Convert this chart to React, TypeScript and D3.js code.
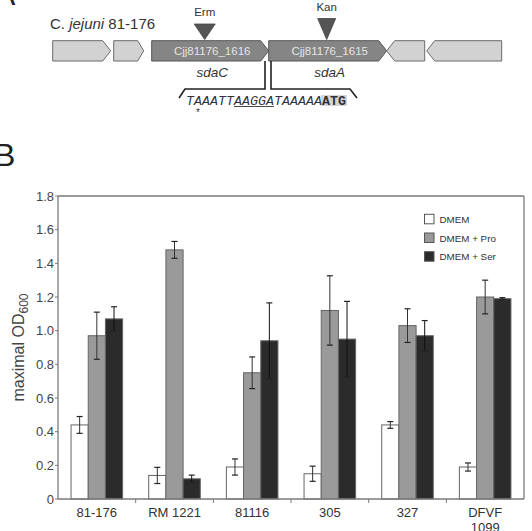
import React from "react";
import * as d3 from "d3";

// Growth data: maximal OD600 per strain and medium, with error bars
const strains = ["81-176", "RM 1221", "81116", "305", "327", "DFVF 1099"];
const media = ["DMEM", "DMEM + Pro", "DMEM + Ser"];
const dmem = [0.44, 0.14, 0.19, 0.15, 0.44, 0.19];
const dmemErr = [0.05, 0.048, 0.048, 0.045, 0.02, 0.024];
const pro = [0.97, 1.48, 0.75, 1.12, 1.03, 1.2];
const proErr = [0.14, 0.05, 0.094, 0.206, 0.1, 0.1];
const ser = [1.07, 0.12, 0.94, 0.95, 0.97, 1.19];
const serErr = [0.072, 0.022, 0.225, 0.224, 0.09, 0.006];
const yTicks = [0, 0.2, 0.4, 0.6, 0.8, 1.0, 1.2, 1.4, 1.6, 1.8];
const yTickLabels = ["0", "0.2", "0.4", "0.6", "0.8", "1.0", "1.2", "1.4", "1.6", "1.8"];

// Gene map of the sdaC/sdaA locus (map units along the chromosome)
const geneStart = [0, 61, 99, 216, 334, 374];
const geneEnd = [58, 91, 216, 334, 372, 449];
const geneStrand = [1, 1, 1, 1, -1, -1];
const geneLocus = ["", "", "Cjj81176_1616", "Cjj81176_1615", "", ""];
const geneName = ["", "", "sdaC", "sdaA", "", ""];
const insertName = ["Erm", "Kan"];
const insertSite = [152, 274];
const sequence = ["TAAATT", "AAGGA", "TAAAAA", "ATG"];

const seriesValues = [dmem, pro, ser];
const seriesErr = [dmemErr, proErr, serErr];
const seriesFill = ["#ffffff", "#9a9a9a", "#2b2b2b"];

const W = 532;
const H = 531;
const sans = "'Liberation Sans', Arial, Helvetica, sans-serif";
const mono = "'Liberation Mono', 'Courier New', monospace";

function genePath(x0: number, x1: number, strand: number, yTop: number, yBot: number, head: number) {
  const ym = (yTop + yBot) / 2;
  if (strand > 0) {
    return `M${x0},${yTop}L${x1 - head},${yTop}L${x1},${ym}L${x1 - head},${yBot}L${x0},${yBot}Z`;
  }
  return `M${x0},${ym}L${x0 + head},${yTop}L${x1},${yTop}L${x1},${yBot}L${x0 + head},${yBot}Z`;
}

function GeneMap() {
  const gx = d3.scaleLinear().domain([0, 450]).range([52.7, 502.7]);
  const yTop = 40.7;
  const yBot = 61;
  const seqX = 186;
  const charW = 8;
  let offset = 0;
  const seqParts = sequence.map((s) => {
    const p = { s, start: offset };
    offset += s.length;
    return p;
  });
  const seqLen = offset;
  return (
    <g>
      <text x={50} y={29} fontFamily={sans} fontSize={15} fill="#333">
        C. <tspan fontStyle="italic">jejuni</tspan> 81-176
      </text>
      {geneStart.map((s, i) => {
        const dark = geneLocus[i] !== "";
        return (
          <path
            key={i}
            d={genePath(gx(s), gx(geneEnd[i]), geneStrand[i], yTop, yBot, i === 1 ? 6 : 8)}
            fill={dark ? "#858585" : "#d2d2d2"}
            stroke={dark ? "#555" : "#6a6a6a"}
            strokeWidth={1}
          />
        );
      })}
      {geneLocus.map((l, i) =>
        l ? (
          <text
            key={"l" + i}
            x={gx((geneStart[i] + geneEnd[i]) / 2) + 2}
            y={55}
            textAnchor="middle"
            fontFamily={sans}
            fontSize={11.5}
            fill="#e4e4e4"
          >
            {l}
          </text>
        ) : null
      )}
      {geneName.map((n, i) =>
        n ? (
          <text
            key={"n" + i}
            x={gx((geneStart[i] + geneEnd[i]) / 2) + 2}
            y={77}
            textAnchor="middle"
            fontFamily={sans}
            fontSize={13.5}
            fontStyle="italic"
            fill="#333"
          >
            {n}
          </text>
        ) : null
      )}
      {insertSite.map((s, i) => {
        const cx = gx(s);
        const top = i === 0 ? 24 : 18.5;
        const hw = i === 0 ? 10.5 : 9;
        return (
          <g key={"ins" + i}>
            <path d={`M${cx - hw},${top}L${cx + hw},${top}L${cx},${39.5}Z`} fill="#555" stroke="#444" strokeWidth={0.8} />
            <text x={cx} y={top - 8} textAnchor="middle" fontFamily={sans} fontSize={11.5} fill="#333">
              {insertName[i]}
            </text>
          </g>
        );
      })}
      {/* intergenic region bracket */}
      <path d="M265,61L265,89L185,89L179,98" fill="none" stroke="#222" strokeWidth={1.6} />
      <path d="M271,61L271,89L350,89L357,98" fill="none" stroke="#222" strokeWidth={1.6} />
      {/* start codon highlight */}
      <rect
        x={seqX + seqParts[3].start * charW - 1}
        y={95}
        width={seqParts[3].s.length * charW + 2}
        height={11}
        fill="#d6d6d6"
      />
      <text x={seqX} y={104.5} fontFamily={mono} fontSize={13.3} fill="#333" textLength={seqLen * charW} lengthAdjust="spacing">
        {seqParts.map((p, i) => (
          <tspan key={i} fontStyle={i < 3 ? "italic" : "normal"} fontWeight={i === 3 ? "bold" : "normal"}>
            {p.s}
          </tspan>
        ))}
      </text>
      <line
        x1={seqX + seqParts[1].start * charW}
        x2={seqX + (seqParts[1].start + seqParts[1].s.length) * charW}
        y1={106.5}
        y2={106.5}
        stroke="#333"
        strokeWidth={0.9}
      />
      <text x={seqX + 1.5 * charW} y={116} textAnchor="middle" fontFamily={sans} fontSize={10} fill="#333">
        *
      </text>
    </g>
  );
}

function BarChart() {
  const left = 58;
  const right = 524;
  const top = 196;
  const bottom = 499;
  const y = d3.scaleLinear().domain([0, 1.8]).range([bottom, top]);
  const x0 = d3.scaleBand<string>().domain(strains).range([left, right]).padding(0);
  const bw = x0.bandwidth();
  const x1 = d3.scaleBand<string>().domain(media).range([bw * 0.168, bw * 0.832]).padding(0);
  const barW = x1.bandwidth();
  const cap = 3;
  const frame = "#7a7a7a";
  const legendY = [214.3, 233, 251.7];
  return (
    <g>
      {strains.map((st, i) => (
        <g key={st}>
          {media.map((m, s) => {
            const v = seriesValues[s][i];
            const e = seriesErr[s][i];
            const bx = (x0(st) as number) + (x1(m) as number);
            const cx = bx + barW / 2;
            return (
              <g key={m}>
                <rect x={bx} y={y(v)} width={barW} height={y(0) - y(v)} fill={seriesFill[s]} stroke="#666" strokeWidth={1} />
                <line x1={cx} x2={cx} y1={y(v + e)} y2={y(v - e)} stroke={s === 2 ? "#111" : "#333"} strokeWidth={1} />
                <line x1={cx - cap} x2={cx + cap} y1={y(v + e)} y2={y(v + e)} stroke="#222" strokeWidth={1.2} />
                <line x1={cx - cap} x2={cx + cap} y1={y(v - e)} y2={y(v - e)} stroke="#222" strokeWidth={1.2} />
              </g>
            );
          })}
        </g>
      ))}
      {/* frame */}
      <line x1={left} x2={right} y1={top} y2={top} stroke={frame} strokeWidth={1.3} />
      <line x1={right} x2={right} y1={top} y2={bottom} stroke={frame} strokeWidth={1.3} />
      <line x1={left} x2={left} y1={top} y2={bottom} stroke={frame} strokeWidth={1.3} />
      <line x1={left} x2={right} y1={bottom} y2={bottom} stroke={frame} strokeWidth={1.3} />
      {/* y axis */}
      {yTicks.map((t, i) => (
        <g key={t}>
          <line x1={left - 3} x2={left} y1={y(t)} y2={y(t)} stroke={frame} strokeWidth={1} />
          <text x={54} y={y(t) + 4.5} textAnchor="end" fontFamily={sans} fontSize={13} fill="#444">
            {yTickLabels[i]}
          </text>
        </g>
      ))}
      <text
        transform={`translate(24,${(top + bottom) / 2}) rotate(-90)`}
        textAnchor="middle"
        fontFamily={sans}
        fontSize={16}
        fill="#444"
      >
        maximal OD<tspan fontSize={12} dy={4}>600</tspan>
      </text>
      {/* x axis */}
      {strains.map((st, i) => {
        const bx = x0(st) as number;
        const parts = st === "DFVF 1099" ? ["DFVF", "1099"] : [st];
        return (
          <g key={st}>
            {i > 0 && <line x1={bx} x2={bx} y1={bottom} y2={bottom + 4} stroke={frame} strokeWidth={1} />}
            {parts.map((p, k) => (
              <text
                key={p}
                x={bx + bw / 2}
                y={517 + k * 15}
                textAnchor="middle"
                fontFamily={sans}
                fontSize={13}
                fill="#333"
              >
                {p}
              </text>
            ))}
          </g>
        );
      })}
      {/* legend */}
      {media.map((m, s) => (
        <g key={m}>
          <rect x={424.5} y={legendY[s]} width={9.5} height={9.5} fill={seriesFill[s]} stroke="#555" strokeWidth={1} />
          <text x={439.5} y={legendY[s] + 8.5} fontFamily={sans} fontSize={9.8} fill="#333">
            {m}
          </text>
        </g>
      ))}
    </g>
  );
}

export default function App() {
  return (
    <svg
      width={W}
      height={H}
      viewBox={`0 0 ${W} ${H}`}
      style={{ position: "absolute", left: 0, top: 0, background: "#fff" }}
    >
      <rect width={W} height={H} fill="#fff" />
      <text x={-6} y={5} fontFamily={sans} fontSize={32} fill="#222">
        A
      </text>
      <text x={-6} y={166} fontFamily={sans} fontSize={32} fill="#222">
        B
      </text>
      <GeneMap />
      <BarChart />
    </svg>
  );
}
